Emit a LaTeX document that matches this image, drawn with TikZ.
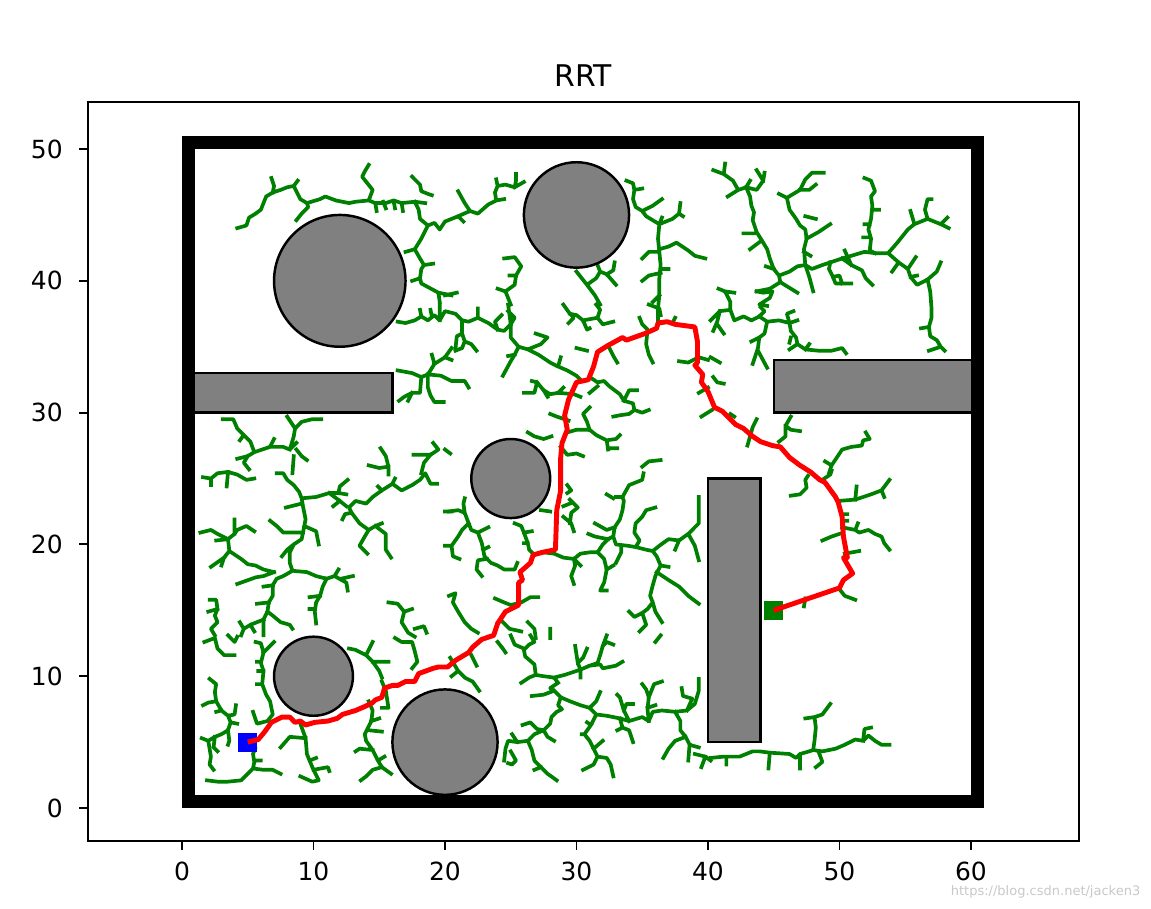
\documentclass[tikz,border=0pt]{standalone}
\usepackage{fontspec}
\setmainfont{DejaVu Sans}
\definecolor{treegreen}{RGB}{0,128,0}
\definecolor{obstaclegray}{RGB}{128,128,128}
\definecolor{markgray}{RGB}{200,200,200}

\begin{document}
\begin{tikzpicture}[x = 0.263cm, y = 0.2636cm,
		branch/.style = {treegreen, line width = 2.1pt, line cap = rect, line join = round},
		route/.style = {red, line width = 2.8pt, line join = round},
		obstacle/.style = {draw = black, fill = obstaclegray, line width = 1.4pt},
		wall/.style = {draw = black, line width = 0.263cm},
		marker/.style = {rectangle, minimum size = 0.38cm, inner sep = 0},
		spine/.style = {black, line width = 1.1pt},
		tick/.style = {black, line width = 1.1pt},
		ticklabel/.style = {inner sep = 0, font = \fontsize{14.2}{17}\selectfont}]
					\useasboundingbox (-13.84, -7.66) rectangle (73.69, 61.31);

					\draw [spine] (-7.15, -2.5) rectangle (68.2, 53.57);
					\foreach \x in { 0, 10, ..., 60 } {
						\draw [tick] (\x, -2.5) to (\x, -3.16);
						\node [ticklabel, anchor = north] (xl\x) at (\x, -4.05) {\x};
					}
					\foreach \y in { 0, 10, ..., 50 } {
						\draw [tick] (-7.15, \y) to (-7.82, \y);
						\node [ticklabel, anchor = east] (yl\y) at (-9.05, \y) {\y};
					}
					\node [font = \fontsize{17}{20}\selectfont] (title) at (30.5, 55.6) {RRT};
					\node [markgray, anchor = east, inner sep = 0, font = \fontsize{7.4}{9}\selectfont] (mark) at (72.9, -6.37) {https://blog.csdn.net/jacken3};

					\draw [branch] (4.2,44.0) -- (4.9,44.2) -- (5.1,44.8) -- (5.6,45.1) -- (6.0,45.4) -- (6.2,45.9) -- (6.4,46.4) -- (6.9,46.7) -- (7.5,46.9) -- (8.0,47.1) -- (8.5,47.2) -- (8.7,46.8) -- (9.0,46.2) -- (9.5,45.9) -- (10.5,46.2) -- (10.9,46.4) -- (11.7,46.1) -- (12.7,45.9) -- (13.2,46.0) -- (14.2,46.1) -- (14.7,45.9) -- (15.5,45.9) -- (16.1,46.1) -- (16.7,45.9) -- (17.7,46.0) -- (18.5,45.9)
						(6.9,46.7) -- (7.0,47.2) -- (6.8,47.8) (8.5,47.2) -- (8.8,47.6) (9.5,45.9) -- (9.6,45.6) -- (9.1,45.1) -- (8.7,44.6)
						(14.2,46.1) -- (14.5,46.9) -- (13.7,47.9) -- (13.9,48.3) -- (14.2,48.8) (14.7,45.9) -- (14.8,45.3) (15.3,46.0) -- (15.5,45.5) (16.1,46.0) -- (16.2,45.5) (16.7,45.9) -- (16.8,45.3)
						(17.5,47.9) -- (18.1,47.3) -- (18.2,46.8) -- (18.7,46.6) -- (19.0,46.5)
						(17.7,46.0) -- (18.0,45.4) -- (18.1,44.7) -- (18.7,44.2) -- (19.2,44.4) -- (19.6,43.9) -- (20.0,44.5) -- (21.0,44.9) -- (21.4,44.5)
						(18.7,44.2) -- (18.2,43.2) -- (17.7,42.4) -- (17.0,42.2) (17.7,42.4) -- (18.1,41.7) -- (18.4,41.2) -- (19.1,41.3)
						(18.4,41.2) -- (18.2,40.9) -- (18.1,40.2) -- (17.5,40.0) (18.1,40.2) -- (18.2,39.8) -- (19.5,39.1) -- (19.6,38.4) (19.5,39.1) -- (20.5,38.9);
					\draw [branch] (21.0,44.9) -- (21.9,45.3) -- (22.5,45.1) -- (23.3,45.8) -- (23.9,46.1) -- (24.5,46.2)
						(23.9,46.1) -- (23.8,46.7) -- (24.0,47.2) -- (23.9,47.7) (24.0,47.2) -- (24.6,47.3) -- (25.3,47.1) -- (25.4,47.6) -- (25.4,48.1) (25.3,47.1) -- (26.0,47.5)
						(21.9,45.3) -- (21.5,45.9) -- (21.0,46.8);
					\draw [branch] (33.8,47.6) -- (34.3,47.4) -- (34.4,46.9) -- (35.0,47.0) (34.4,46.9) -- (34.3,46.2) -- (34.5,45.6) -- (35.0,45.3) -- (35.3,44.9) -- (35.8,44.6) -- (36.3,44.3) -- (36.5,44.8)
						(35.0,45.3) -- (35.8,45.7) -- (36.5,46.2) (36.3,44.3) -- (37.3,44.7) -- (37.8,45.1) -- (37.9,45.9) (37.8,45.1) -- (38.1,44.9)
						(36.3,44.3) -- (36.2,43.2) -- (36.3,42.2) -- (36.4,41.2) -- (36.3,40.2) -- (36.3,38.9) -- (36.2,37.9) -- (36.2,36.8)
						(36.3,42.4) -- (37.0,42.6) -- (37.6,42.9) -- (38.5,42.3) -- (39.0,41.9) -- (39.8,41.7) (36.3,42.2) -- (35.5,42.2) -- (35.0,41.7)
						(36.4,40.6) -- (35.5,40.4) -- (35.0,40.0) (36.4,40.9) -- (37.0,40.9) (36.3,38.9) -- (35.8,38.4);
					\draw [branch] (30.0,40.7) -- (30.8,39.7) -- (31.4,38.9) -- (31.8,38.2) (30.8,39.7) -- (31.5,40.2) -- (31.8,40.7) -- (32.3,40.5) -- (33.0,39.7)
						(32.3,40.5) -- (32.8,40.8) -- (32.9,41.4) (31.8,40.7) -- (31.6,41.2)
						(24.5,41.7) -- (25.3,41.8) -- (25.8,41.1) -- (25.4,40.4) -- (25.3,39.7) -- (24.6,39.2) -- (24.0,39.4) (25.4,40.4) -- (24.9,40.4) (24.6,39.2) -- (25.0,38.2)
						(20.0,38.9) -- (20.9,39.1);
					\draw [branch] (40.4,48.4) -- (41.2,48.1) -- (41.3,48.9) (41.2,48.1) -- (41.9,47.6) -- (42.3,46.9) -- (41.5,46.4) (42.3,46.9) -- (42.9,47.1) -- (43.2,47.6)
						(42.9,47.1) -- (43.7,46.9) -- (44.2,47.6) -- (43.7,48.4) (44.2,47.6) -- (44.3,48.2)
						(42.9,47.1) -- (43.2,46.4) -- (43.3,45.7) -- (43.5,45.2) -- (43.4,44.6) -- (43.7,43.7) -- (44.2,42.9) -- (44.5,42.4) -- (44.7,41.7) -- (45.0,40.9) -- (45.4,40.4) -- (46.2,40.7) -- (46.8,41.1) -- (47.4,41.2) -- (47.9,40.9) -- (48.7,41.2) -- (49.3,41.4) -- (50.2,41.7) -- (50.9,41.9) -- (51.9,42.2) -- (52.7,42.1) -- (53.7,42.1)
						(43.5,43.6) -- (42.7,43.6) (44.0,43.0) -- (43.2,42.4) (45.4,40.4) -- (45.5,39.9) -- (44.7,39.4) -- (43.7,39.2) (45.5,39.9) -- (46.8,39.1) (45.0,40.9) -- (44.4,41.1);
					\draw [branch] (45.4,46.6) -- (46.0,46.3) -- (46.2,45.4) -- (46.7,44.7) -- (47.0,44.2) -- (47.4,43.9) -- (47.5,43.2) -- (47.3,42.4) -- (47.4,41.2) -- (47.7,40.3) -- (48.0,39.2)
						(46.0,46.3) -- (47.0,46.9) -- (47.4,47.7) -- (47.9,48.2) -- (48.8,48.2) (47.0,46.9) -- (47.7,46.9) -- (48.2,47.3)
						(47.4,44.9) -- (48.2,44.7) (47.5,43.2) -- (48.4,43.7) -- (49.3,44.3) (47.3,42.2) -- (47.8,41.9);
					\draw [branch] (51.9,47.8) -- (52.4,47.6) -- (52.7,46.8) -- (52.4,46.4) -- (52.5,45.7) -- (52.4,44.7) -- (52.2,43.9) -- (52.4,43.2) -- (52.3,42.3) -- (52.7,42.1)
						(52.5,45.4) -- (53.0,45.4) (52.3,44.3) -- (51.9,44.3) (52.2,43.3) -- (51.8,43.3);
					\draw [branch] (53.7,42.1) -- (54.4,42.9) -- (55.2,43.9) -- (55.7,44.3) -- (55.4,45.3) (55.7,44.3) -- (56.7,44.7) -- (56.5,45.4) -- (56.7,46.2) -- (57.0,46.2)
						(56.7,44.7) -- (57.7,44.3) -- (58.2,44.8) (57.7,44.3) -- (58.3,44.0)
						(53.7,42.1) -- (54.5,41.4) -- (55.2,40.9) -- (55.4,40.3) -- (55.9,39.7) -- (56.7,40.1) -- (57.4,40.7) -- (57.7,41.4)
						(56.7,40.1) -- (56.9,39.2) -- (57.0,37.9) -- (57.0,37.2) -- (56.8,36.5) -- (56.9,35.8) -- (57.4,35.5) -- (57.7,35.0) -- (56.8,34.7) (57.7,35.0) -- (58.0,34.7) (56.8,36.5) -- (56.2,36.4)
						(55.2,40.9) -- (55.8,41.8) (54.5,41.4) -- (54.0,40.7) (55.4,40.3) -- (55.9,40.4);
					\draw [branch] (50.2,41.7) -- (50.9,41.2) -- (51.7,40.8) -- (52.0,40.2) -- (52.5,39.7) (50.9,41.2) -- (50.4,42.3)
						(49.3,41.4) -- (49.2,40.9) -- (49.5,40.3) -- (49.7,39.8) -- (50.9,39.8) (49.5,40.3) -- (50.0,40.4) -- (50.2,39.8)
						(40.8,39.4) -- (41.3,39.2) -- (41.7,38.4) -- (41.7,37.9) (41.3,39.2) -- (42.0,39.1)
						(43.7,39.2) -- (44.2,39.1) -- (44.9,39.2) -- (44.7,38.7) -- (43.9,38.2) -- (44.5,38.1);
					\draw [branch] (40.2,37.0) -- (40.9,37.7) -- (41.7,37.8) -- (42.0,37.0) -- (42.7,37.3) -- (43.3,37.0) -- (43.9,37.3) -- (44.3,37.7) -- (44.0,38.0)
						(40.9,37.7) -- (40.7,36.9) -- (40.4,36.2) (40.7,36.7) -- (41.2,36.0)
						(43.9,37.3) -- (44.5,36.9) -- (45.4,37.0) -- (46.2,36.8) -- (46.0,37.5) -- (46.5,37.7) (46.2,36.8) -- (46.8,37.0)
						(44.5,36.9) -- (44.3,36.0) -- (43.9,35.7) -- (43.8,34.9) -- (43.4,33.7) (43.8,34.7) -- (44.5,33.4) (43.9,35.7) -- (43.3,35.4)
						(46.2,36.8) -- (46.3,36.2) -- (46.7,35.7) -- (46.8,35.2) -- (47.4,34.8) -- (48.4,34.7) -- (49.4,34.7) -- (50.2,34.9) -- (50.5,34.5)
						(46.3,35.7) -- (46.2,35.3) (46.8,35.2) -- (46.2,34.8) (47.4,34.8) -- (47.7,35.2)
						(40.2,34.2) -- (40.9,33.8) (40.4,32.7) -- (40.7,32.3) -- (41.2,32.2);
					\draw [branch] (43.7,29.5) -- (43.4,28.9) -- (43.0,27.5) (46.3,29.7) -- (45.9,29.0) -- (46.3,28.7) -- (47.0,28.6) (45.9,29.0) -- (45.9,28.2) -- (45.4,27.8)
						(41.7,29.9) -- (42.0,29.7)
						(48.9,26.3) -- (49.4,26.0) -- (49.2,25.4) (49.4,26.0) -- (50.2,27.2) -- (50.9,27.4) -- (51.7,27.5) -- (51.8,27.9) -- (52.3,28.0) -- (52.0,28.5);
					\draw [branch] (48.7,24.9) -- (49.3,25.3) -- (49.4,25.6)
						(46.3,23.7) -- (47.0,23.8) -- (47.5,24.3) -- (47.4,24.9) -- (47.6,25.2)
						(49.9,23.3) -- (51.2,23.4) -- (52.4,23.8) -- (53.2,24.1) -- (53.8,24.9) (53.2,24.1) -- (53.4,23.6) (51.2,23.4) -- (51.3,24.4)
						(50.2,21.3) -- (51.2,21.1) -- (51.5,20.9) -- (52.2,21.1) -- (52.7,20.8) -- (53.2,20.6) -- (53.4,20.1) -- (53.8,19.6) (51.2,21.1) -- (51.4,21.6)
						(50.2,22.3) -- (50.6,22.3) (50.2,21.8) -- (50.6,21.8)
						(50.0,20.8) -- (49.4,20.6) -- (48.7,20.3) (50.4,19.3) -- (51.5,19.5)
						(50.0,16.6) -- (50.4,16.1) -- (51.2,15.8) (47.4,15.9) -- (47.3,15.3);
					\draw [branch] (40.2,3.8) -- (41.2,3.9) -- (42.4,3.9) -- (43.4,4.3) -- (43.9,4.3) -- (44.7,4.2) -- (46.2,4.1) -- (46.7,3.8) -- (47.0,4.1) -- (47.7,4.3) -- (48.0,4.4) -- (48.7,4.3) -- (49.7,4.5) -- (50.4,4.8) -- (51.2,5.2) -- (51.8,5.1) -- (52.2,5.5) -- (52.7,5.1) -- (53.2,4.8) -- (53.8,4.8)
						(51.8,5.1) -- (51.9,6.0) -- (52.4,6.1) (41.4,3.9) -- (41.4,3.3) (44.7,4.2) -- (44.6,3.0) (47.0,4.0) -- (47.0,3.0)
						(48.0,4.4) -- (48.1,5.1) -- (48.2,6.1) -- (48.1,6.9) -- (47.4,6.8) (48.1,6.9) -- (48.7,7.1) -- (49.3,7.9) (48.4,4.3) -- (48.7,3.5) -- (48.2,3.1);
					\draw [branch] (25.8,9.5) -- (26.4,9.9) -- (26.9,10.1) -- (26.8,10.9) -- (26.1,11.5) -- (26.0,12.0) -- (26.4,12.4) -- (26.8,12.6) -- (26.5,13.1)
						(26.9,10.1) -- (27.5,10.0) -- (28.3,9.9) -- (28.6,9.5)
						(28.3,9.9) -- (29.1,10.1) -- (30.3,10.5) -- (31.0,10.8) -- (31.8,10.9) -- (32.0,10.6) -- (33.0,10.8) -- (33.5,11.1)
						(30.3,10.5) -- (30.1,11.0) -- (30.5,11.4) -- (30.8,12.1) (30.1,11.0) -- (29.9,12.3) (30.3,10.5) -- (30.3,9.9)
						(31.0,10.8) -- (31.6,11.0) -- (31.8,11.6) -- (32.0,12.3) -- (32.3,12.6) -- (32.8,12.4) (32.0,12.3) -- (32.3,13.1)
						(28.6,9.5) -- (28.0,9.1) -- (28.3,8.9) -- (27.5,8.6) -- (26.6,8.5)
						(28.3,8.9) -- (28.8,8.4) -- (29.5,8.1) -- (30.3,7.8) -- (31.0,7.6) -- (31.5,8.1) -- (31.8,8.8)
						(28.8,8.4) -- (28.6,7.8) -- (28.9,7.5) -- (28.5,7.3) -- (28.1,6.9) -- (28.0,6.4) -- (27.5,5.9) -- (27.0,6.0) -- (26.5,6.5) -- (25.9,6.3)
						(27.5,5.9) -- (27.8,5.4) -- (28.3,5.1)
						(27.5,5.9) -- (26.8,5.6) -- (26.3,5.1) -- (25.5,5.0) -- (25.1,5.6) (25.5,5.0) -- (24.8,5.1) -- (24.6,4.5) -- (24.5,3.6)
						(26.3,5.1) -- (26.6,4.4) -- (26.8,3.6) -- (27.3,3.1) -- (27.8,2.6) -- (28.5,2.1) (27.3,3.1) -- (26.8,2.9)
						(25.0,4.3) -- (25.4,3.6) -- (25.1,3.3) -- (24.8,3.4);
					\draw [branch] (31.0,7.6) -- (31.5,7.1) -- (32.3,7.0) -- (33.3,6.8) -- (34.0,6.6) -- (35.0,6.9) -- (35.5,6.6) -- (35.8,7.3) -- (36.5,7.4) -- (37.5,7.3) -- (38.4,7.4) -- (39.0,7.9) -- (39.3,8.9) -- (39.3,9.8)
						(38.4,7.4) -- (38.8,8.3) -- (38.1,8.5) -- (38.0,9.1)
						(37.5,7.3) -- (37.9,6.6) -- (37.9,5.9) -- (38.3,5.4) -- (38.6,4.8) -- (39.3,4.6) (38.3,5.4) -- (37.5,5.1) -- (37.0,4.5) -- (36.6,3.8) (38.6,4.8) -- (38.5,3.6)
						(39.0,4.1) -- (39.8,3.9) -- (40.2,3.6) (39.8,3.9) -- (39.5,3.1)
						(35.5,6.6) -- (35.4,7.5) -- (35.5,8.4) -- (35.3,9.0) -- (35.0,9.4) (35.5,8.4) -- (35.9,9.4) -- (36.5,9.6) (35.4,7.6) -- (36.0,7.8)
						(34.0,6.6) -- (33.6,7.4) -- (33.8,7.9) -- (34.3,7.9) (33.6,7.4) -- (33.3,8.4) -- (33.1,8.6)
						(33.3,6.8) -- (33.5,6.1) -- (33.1,5.9) (33.5,6.1) -- (34.0,5.9) -- (34.3,5.0)
						(31.5,7.1) -- (31.1,6.3) -- (30.6,5.6) -- (31.0,5.1) -- (31.3,4.5) -- (31.6,3.9) -- (31.3,3.3) -- (30.5,2.9) (31.6,3.9) -- (32.3,3.8) -- (32.6,3.3) -- (32.8,2.4)
						(31.1,6.3) -- (30.8,6.5) (30.6,5.6) -- (30.4,5.6) (31.3,4.5) -- (32.0,5.1);
					\draw [branch] (20.4,11.4) -- (21.0,10.4) -- (21.5,9.9) -- (22.1,9.6) -- (22.6,8.9) (21.0,10.4) -- (20.5,10.0) (22.0,11.6) -- (22.4,10.8)
						(24.0,12.6) -- (24.4,12.1) -- (24.6,11.8) (25.0,13.1) -- (25.3,12.4) -- (26.0,12.1) (36.0,12.6) -- (36.4,13.1);
					\draw [branch] (2.1,9.8) -- (2.6,9.4) -- (2.5,8.8) -- (2.6,8.1) -- (2.0,8.0) -- (1.6,7.8) (2.6,8.1) -- (3.0,7.4) -- (3.5,7.0) -- (4.0,7.1) -- (4.1,7.8) (3.0,7.4) -- (2.6,7.3)
						(3.5,7.0) -- (3.7,6.5) -- (3.5,5.9) -- (3.0,5.6) -- (2.5,5.4) -- (2.0,5.1) -- (1.5,5.3) (3.5,5.9) -- (3.6,5.1) -- (3.5,4.8) (2.5,5.4) -- (2.4,4.6) -- (2.7,4.3)
						(2.0,5.1) -- (2.1,4.5) -- (2.2,3.9) -- (2.1,3.3) -- (2.4,2.9) (3.7,6.5) -- (4.2,6.4)
						(5.0,5.1) -- (5.6,4.6) -- (5.4,4.1) -- (5.5,3.5) -- (5.4,3.0) -- (5.0,2.6) -- (4.5,2.1) -- (3.5,2.0) -- (2.7,2.0) -- (1.9,2.1) (5.4,3.0) -- (6.2,2.9) -- (6.9,2.9) -- (7.5,2.6) (5.5,3.6) -- (6.0,3.6)
						(5.6,12.6) -- (6.0,12.5) -- (6.2,11.8) -- (6.0,11.0) -- (6.2,10.4) -- (6.1,9.4) -- (6.4,8.6) -- (6.7,8.1) -- (6.9,7.1) -- (6.5,6.6) -- (5.7,6.4) -- (5.4,7.3)
						(6.2,11.8) -- (7.0,12.6) (6.0,11.1) -- (5.7,11.1) (6.2,10.4) -- (5.8,10.4) (6.1,9.4) -- (5.7,9.4)
						(1.7,12.6) -- (2.5,12.9) -- (2.7,12.1) -- (3.2,11.6) -- (4.0,11.6) (3.5,13.1) -- (4.0,12.6) -- (4.2,13.0);
					\draw [branch] (9.0,6.4) -- (9.4,5.3) -- (9.5,4.1) -- (9.7,3.6) -- (10.0,2.9) -- (10.4,2.1) -- (9.9,2.0) -- (9.0,2.4) (9.4,5.3) -- (8.2,5.4) -- (7.5,4.6) (9.7,3.6) -- (10.2,3.8) (10.0,2.9) -- (11.1,3.1) -- (11.2,2.8)
						(12.7,12.1) -- (13.2,12.0) -- (14.0,11.6) -- (14.5,11.1) -- (15.0,10.4) -- (15.2,9.9) (14.0,11.6) -- (14.5,12.6) (14.5,11.1) -- (15.2,11.1) -- (15.7,11.1) (15.2,9.6) -- (15.5,8.9) -- (15.7,7.6) -- (15.2,7.6)
						(14.2,8.1) -- (14.5,7.4) -- (14.4,6.6) -- (13.9,5.6) -- (14.0,5.1) -- (14.5,4.4) -- (14.9,3.6) -- (15.2,3.1) -- (15.9,2.6) (15.2,3.1) -- (14.5,2.9) -- (14.0,2.4) -- (13.6,2.1)
						(14.5,4.4) -- (13.5,4.5) -- (13.2,4.3) (14.2,5.9) -- (15.2,5.8) (14.4,6.6) -- (15.0,6.8) (14.9,3.6) -- (15.4,3.9)
						(16.2,12.9) -- (16.7,12.6) -- (17.5,12.6) -- (17.7,11.9) -- (17.9,11.1) -- (17.5,10.6);
					\draw [branch] (1.6,25.1) -- (2.2,25.0) -- (2.7,25.4) -- (3.5,25.5) -- (4.2,25.3) -- (4.9,24.9) -- (5.5,25.0) (2.2,25.0) -- (2.2,24.5) (3.5,25.5) -- (3.4,24.4)
						(7.2,25.4) -- (7.7,25.4) -- (8.0,24.9) -- (8.5,24.5) -- (8.9,24.0) -- (9.1,23.5) -- (9.2,22.9) -- (9.4,21.9) -- (9.2,20.9) -- (9.1,20.4) -- (8.5,20.0) -- (8.2,19.4) -- (8.2,18.6) -- (8.4,18.0) -- (7.7,17.6) -- (7.2,17.4) -- (6.9,16.9) -- (6.9,16.1) -- (6.6,15.6) -- (6.5,14.9) -- (6.2,14.3) -- (6.2,13.1)
						(9.1,23.5) -- (10.2,23.6) -- (11.2,23.9) -- (11.9,23.9) -- (12.5,23.8) (11.9,23.9) -- (12.0,24.4) -- (12.6,24.9) (11.2,23.9) -- (12.0,23.3) -- (12.5,22.9) (12.0,23.3) -- (11.5,22.9) (9.1,23.1) -- (7.9,22.8)
						(9.3,21.4) -- (10.2,21.0) -- (10.4,20.0) (8.5,20.0) -- (8.0,19.6) -- (7.6,19.1)
						(8.4,18.0) -- (9.5,17.9) -- (10.2,17.6) -- (11.0,17.4) -- (11.6,17.6) -- (11.9,18.1) (11.0,17.4) -- (10.7,16.8) -- (10.5,16.1) -- (10.2,15.6) -- (10.1,14.9) -- (10.2,14.0)
						(10.5,16.1) -- (9.7,16.0) (10.1,15.1) -- (9.7,15.1) (11.6,17.6) -- (12.5,17.1) -- (12.6,16.5) (12.1,17.4) -- (13.0,17.6)
						(9.2,20.9) -- (7.7,20.9) -- (7.2,21.4) -- (6.7,21.8);
					\draw [branch] (1.4,20.9) -- (2.2,21.1) -- (2.7,20.8) -- (3.5,20.4) -- (4.0,20.8) -- (4.2,21.1) -- (4.9,21.4) -- (5.5,21.0) (4.0,20.8) -- (4.0,21.9) (2.6,20.3) -- (3.5,20.4)
						(3.5,20.4) -- (3.6,19.5) -- (3.2,19.0) -- (3.0,18.4) (3.2,19.0) -- (2.2,18.3) (3.6,19.5) -- (4.5,18.9) -- (5.0,18.5) -- (5.6,18.4) -- (6.2,18.1) -- (7.0,17.9)
						(7.0,17.9) -- (6.2,17.6) -- (5.6,17.5) -- (4.2,17.0) (6.9,16.9) -- (6.2,16.8) (6.6,15.6) -- (5.7,15.5)
						(6.5,14.9) -- (6.9,14.6) -- (7.5,14.1) -- (8.2,13.9) -- (8.4,13.6) (6.2,14.3) -- (5.2,13.9) -- (4.7,13.6) -- (4.4,14.1) (5.2,13.9) -- (5.5,13.4) (4.7,13.6) -- (4.5,13.1)
						(2.1,15.8) -- (2.6,15.8) -- (2.7,15.1) -- (2.5,14.6) -- (2.7,14.1) -- (2.2,13.6) -- (2.5,13.1) (2.7,15.1) -- (2.0,14.9);
					\draw [branch] (12.2,21.9) -- (12.4,22.3) -- (12.9,22.4) -- (13.5,21.6) -- (14.2,21.1) -- (14.7,21.4) -- (15.2,21.6) (14.2,21.1) -- (13.9,20.6) -- (13.5,19.9) -- (14.1,19.3)
						(14.7,21.4) -- (15.5,20.8) -- (15.5,19.6) -- (15.9,19.0)
						(12.9,22.4) -- (12.7,22.8) -- (13.2,23.3) -- (14.0,23.1) -- (14.5,23.6) -- (15.2,24.1) -- (16.0,24.6) -- (16.2,25.0) (15.2,24.1) -- (14.9,24.4)
						(16.0,24.6) -- (16.7,24.1) -- (17.5,24.5) -- (18.1,24.9) -- (18.5,25.4) -- (18.9,24.6) -- (19.4,24.6)
						(15.7,15.6) -- (16.4,15.5) -- (16.9,14.9) -- (16.7,14.1) -- (17.2,13.3) -- (17.7,13.0) (16.9,14.9) -- (17.5,15.1) (17.7,13.6) -- (18.4,13.8) -- (18.6,13.3)
						(20.0,22.5) -- (20.5,22.5);
					\draw [branch] (16.4,36.9) -- (17.0,36.8) -- (17.7,37.0) -- (18.2,37.3) -- (18.7,37.0) -- (19.2,37.4) -- (19.6,37.0) -- (20.0,37.7) -- (20.8,37.5) -- (21.3,37.0) -- (21.8,36.9) -- (22.5,37.2) -- (22.5,37.9)
						(18.1,37.8) -- (18.2,37.3) (18.9,37.8) -- (19.0,37.3) (19.6,38.2) -- (19.6,37.0)
						(22.5,37.2) -- (23.3,36.8) -- (24.0,36.3) -- (24.5,36.2) -- (25.0,36.7) -- (25.3,37.2) -- (24.8,37.7) (25.0,36.7) -- (24.8,38.2) (24.0,36.3) -- (23.8,36.9) -- (24.3,37.4)
						(21.3,37.0) -- (21.3,36.0) -- (20.9,35.8) -- (20.8,34.9) (21.3,36.0) -- (21.5,35.4) -- (22.0,35.2) -- (22.4,34.7) (21.5,35.4) -- (21.3,34.9) -- (20.8,34.7) (20.0,34.2) -- (20.5,34.0);
					\draw [branch] (16.4,33.2) -- (17.5,33.0) -- (18.2,32.7) -- (18.7,32.9) -- (19.2,33.7) -- (19.0,34.4) (19.2,33.7) -- (20.0,34.2) -- (20.5,34.9)
						(18.7,32.9) -- (18.7,31.9) -- (18.9,31.3) -- (19.2,30.8) -- (19.9,30.8) (18.2,32.7) -- (18.1,31.5) -- (17.5,31.5) -- (16.9,31.2) -- (16.5,30.9) (17.5,31.5) -- (17.2,30.9)
						(18.7,32.9) -- (19.7,32.8) -- (20.5,32.4) -- (21.5,32.4) -- (21.8,31.9);
					\draw [branch] (3.1,29.5) -- (3.9,29.5) -- (4.2,28.8) -- (4.7,28.3) -- (4.4,27.9) (4.7,28.3) -- (5.2,27.8) -- (5.5,27.0) -- (5.0,26.7) -- (4.2,26.5)
						(5.5,27.0) -- (6.1,27.2) -- (6.7,27.4) -- (7.0,28.0) (6.7,27.4) -- (7.7,27.4) -- (8.2,27.2) -- (8.7,27.7)
						(8.2,27.2) -- (8.5,28.2) -- (8.6,28.8) -- (9.1,29.3) -- (9.9,29.5) -- (10.6,29.5) (8.6,28.8) -- (8.0,29.7)
						(8.7,27.2) -- (9.1,26.7) -- (9.5,26.4) (8.5,26.7) -- (8.4,25.4) (5.0,26.7) -- (4.7,26.2) -- (5.1,25.7)
						(14.2,26.0) -- (15.0,25.8) -- (15.7,25.9) -- (15.5,26.7) -- (15.1,27.3) (15.7,25.9) -- (15.7,25.3)
						(17.6,26.8) -- (18.9,26.8) -- (19.5,27.2) -- (19.1,27.7) (18.9,26.8) -- (18.4,26.2) -- (18.2,25.4);
					\draw [branch] (25.0,36.7) -- (25.0,35.7) -- (25.6,35.0) -- (26.3,34.8) -- (27.3,35.2) -- (27.8,35.7) -- (26.9,36.0)
						(26.3,34.8) -- (27.1,34.4) -- (28.0,33.8) -- (28.6,33.5) -- (29.3,33.2) -- (30.0,32.8) -- (30.3,32.5)
						(25.6,35.0) -- (25.3,34.4) -- (25.0,33.9) -- (24.4,32.8) (25.3,34.4) -- (24.8,34.3) (28.6,33.5) -- (28.8,34.2)
						(29.0,38.2) -- (29.5,37.5) -- (29.8,37.2) -- (29.4,36.8) (29.5,37.5) -- (30.0,37.4) -- (30.5,37.0) -- (30.8,36.3) -- (31.0,36.4)
						(30.5,37.0) -- (31.6,37.2) -- (31.8,37.8) -- (31.5,38.2) (31.6,37.2) -- (32.0,36.7) -- (32.8,36.9)
						(30.0,34.9) -- (30.8,34.7) (32.5,34.9) -- (32.8,34.3) -- (33.1,33.8)
						(34.8,37.2) -- (35.0,36.7) -- (35.4,36.3) -- (35.3,35.2) -- (35.5,34.4) -- (35.8,33.8) (35.5,38.2) -- (36.3,37.9) -- (36.4,37.4) (37.5,37.2) -- (37.3,36.8)
						(37.8,33.9) -- (38.5,33.8) -- (39.3,34.2) -- (40.0,34.0) (39.3,31.5) -- (40.0,31.9) (39.5,29.7) -- (40.3,30.2);
					\draw [branch] (31.0,32.7) -- (31.6,32.3) -- (32.1,32.4) -- (32.5,32.0) -- (33.3,31.4) -- (33.6,30.9) -- (34.3,30.7) -- (34.4,30.2) -- (34.0,29.9) -- (33.3,29.8) -- (32.8,29.7)
						(34.4,30.2) -- (35.0,30.0) -- (35.5,30.2) (33.6,30.9) -- (34.0,31.7) -- (34.6,31.7) (31.0,31.5) -- (31.6,32.0)
						(26.0,31.5) -- (26.8,31.5) -- (27.0,32.3) -- (26.6,32.4) (27.0,32.3) -- (27.5,31.7) -- (28.0,31.4) -- (28.6,31.5) -- (29.0,31.9)
						(28.6,31.5) -- (29.8,31.4) -- (30.3,31.2) (27.5,31.7) -- (27.8,31.2)
						(28.0,29.9) -- (28.5,29.7) -- (29.4,29.4)
						(29.3,28.5) -- (30.0,28.7) -- (31.0,28.7) -- (31.5,28.3) -- (32.3,27.9) -- (32.4,27.2) (31.0,28.7) -- (30.8,29.3) -- (30.5,29.9) -- (31.0,30.4)
						(32.3,27.9) -- (33.0,28.0) -- (33.3,28.3) (32.4,27.3) -- (33.1,27.3)
						(26.3,28.5) -- (26.8,28.2) -- (27.5,28.0) -- (28.1,28.2) (28.8,27.4) -- (29.3,26.8) -- (30.0,26.9) -- (30.5,26.7)
						(35.0,25.9) -- (35.5,26.3) -- (36.4,26.4) (20.0,27.2) -- (20.4,26.9);
					\draw [branch] (20.3,22.5) -- (21.0,22.6) -- (21.5,22.4) -- (21.8,21.6) -- (22.0,21.1) -- (22.5,20.9) -- (23.3,21.3) (21.5,22.4) -- (21.4,23.1) -- (21.5,23.5)
						(21.8,21.6) -- (21.3,21.1) -- (21.0,20.6) -- (20.5,19.9) -- (20.6,19.1) -- (21.1,18.9) (20.5,19.9) -- (20.0,19.9)
						(22.5,20.9) -- (22.8,20.1) -- (22.9,19.6) -- (23.0,19.1) -- (23.5,18.6) -- (24.0,18.4) -- (24.5,18.1) -- (25.3,18.1) -- (25.5,18.6) (22.9,19.6) -- (23.3,19.8)
						(23.2,18.9) -- (22.5,18.8) -- (22.4,18.1) -- (22.8,17.6)
						(25.3,21.6) -- (25.8,21.4) -- (26.0,20.9) -- (26.3,20.1) -- (26.4,19.6) -- (26.6,19.4) (26.0,20.9) -- (26.6,21.0) (26.3,20.1) -- (26.0,20.1)
						(27.3,22.6) -- (28.0,22.5) (29.0,22.9) -- (29.5,23.1) (29.3,24.5) -- (29.6,24.1) -- (29.3,23.9)
						(29.5,23.4) -- (30.1,22.8) -- (29.6,22.4) -- (29.5,21.6) (29.0,22.1) -- (29.6,21.6) -- (29.8,21.0);
					\draw [branch] (27.5,19.4) -- (28.3,19.3) -- (29.0,19.0) -- (29.8,18.9) -- (29.9,18.4) -- (29.6,17.6) -- (29.8,17.0) (29.8,18.9) -- (30.3,18.4)
						(29.8,18.9) -- (30.3,19.3) -- (31.0,19.4) -- (31.6,19.4) -- (32.0,20.0) -- (32.4,20.4) (31.6,19.4) -- (32.1,18.9) -- (32.3,18.1) -- (32.1,17.1) -- (31.8,16.5) -- (32.3,16.5) (32.3,18.1) -- (32.8,18.4)
						(32.4,20.4) -- (32.8,20.6) -- (32.9,21.3) -- (33.3,21.9) -- (33.5,22.6) -- (33.6,23.3) -- (33.5,23.6) -- (34.0,24.5) -- (35.0,24.9) -- (35.1,25.4)
						(33.5,23.6) -- (33.0,23.6) (32.3,23.8) -- (32.8,23.5) (32.9,21.3) -- (32.3,21.1) -- (31.4,21.6) (32.4,20.4) -- (31.4,20.6) -- (30.9,20.8)
						(32.8,20.6) -- (33.0,20.0) -- (33.9,19.9) -- (34.5,19.8) -- (34.8,20.3) -- (34.4,20.9) -- (34.5,21.6) -- (35.0,22.1) -- (35.3,22.6) -- (36.0,22.8)
						(34.5,19.8) -- (35.3,19.6) -- (35.8,19.5) -- (36.1,19.1) -- (36.4,18.4) -- (37.0,18.3)
						(35.8,19.5) -- (36.3,19.9) -- (37.0,20.4) -- (37.8,20.3) -- (38.5,20.8) -- (39.3,21.6) -- (39.3,23.6) (38.5,20.8) -- (39.0,19.9) -- (39.3,18.8) (37.8,20.3) -- (37.5,19.6)
						(36.4,18.4) -- (36.0,17.6) -- (35.8,16.9) -- (35.6,16.1) -- (35.8,15.6) -- (35.4,15.1) -- (35.0,14.8) -- (34.4,14.5) -- (34.0,14.9)
						(36.1,17.9) -- (37.0,17.3) -- (37.8,16.8) -- (38.5,16.1) -- (39.3,15.5) (35.8,15.6) -- (36.0,14.9) -- (36.5,14.1) (35.0,14.8) -- (35.3,13.9) -- (34.8,13.4)
						(33.4,19.9) -- (33.4,19.4) -- (33.0,18.6);
					\draw [branch] (20.3,16.1) -- (20.8,16.3) -- (20.6,15.6) -- (21.0,14.9) -- (21.5,14.1) -- (22.0,13.6) -- (22.5,13.3)
						(23.8,15.9) -- (24.5,15.6) -- (25.0,15.4) -- (25.8,15.6) -- (26.5,16.0) -- (27.1,16.0)
						(24.4,14.1) -- (24.9,13.6) -- (25.8,13.4) (26.3,14.1) -- (26.8,13.6) -- (26.9,12.9) (28.0,13.6) -- (28.0,12.9);

					\draw [obstacle] (12, 40) circle [radius = 5];
					\draw [obstacle] (30, 45) circle [radius = 4];
					\draw [obstacle] (25, 25) circle [radius = 3];
					\draw [obstacle] (10, 10) circle [radius = 3];
					\draw [obstacle] (20, 5) circle [radius = 4];
					\draw [obstacle] (0.5, 30) rectangle (16, 33);
					\draw [obstacle] (45, 30) rectangle (60.5, 34);
					\draw [obstacle] (40, 5) rectangle (44, 25);
					\draw [wall] (0.5, 0.5) rectangle (60.5, 50.5);

					\node [marker, fill = blue] (start) at (5, 5) {};
					\node [marker, fill = treegreen] (goal) at (45, 15) {};

					\draw [route] (start.center) -- (5.8,5.2) -- (6.3,5.8) -- (6.8,6.5) -- (7.6,6.9) -- (8.2,6.9) -- (8.6,6.5) -- (9.0,6.6) -- (9.4,6.3) -- (10.1,6.5) -- (11.1,6.6) -- (11.8,6.8) -- (12.2,7.1) -- (13.2,7.4) -- (13.9,7.7) -- (14.5,8.0) -- (14.7,8.2) -- (15.2,8.4) -- (15.4,9.1) -- (16.0,9.3) -- (16.4,9.3) -- (17.0,9.6) -- (17.7,9.6) -- (18.0,10.2) -- (19.1,10.6) -- (19.5,10.7) -- (20.2,10.7) -- (20.8,11.2) -- (21.8,11.8) -- (22.1,12.2) -- (22.8,12.8) -- (23.7,13.1) -- (24.0,14.0) -- (24.6,14.9) -- (25.6,15.4) -- (25.6,17.1) -- (25.9,17.3) -- (25.7,17.9) -- (26.5,18.6) -- (26.7,19.2) -- (27.4,19.4) -- (28.4,19.6) -- (28.5,22.6) -- (28.8,24.1) -- (28.8,25.6) -- (28.8,26.6) -- (28.9,27.7) -- (29.3,28.7) -- (29.1,29.8) -- (29.4,31.0) -- (30.0,32.3) -- (30.9,32.5) -- (31.3,33.5) -- (31.6,34.6) -- (32.4,35.1) -- (33.5,35.7) -- (33.8,35.5) -- (35.2,36.0) -- (36.1,36.4) -- (36.2,36.8) -- (36.9,36.9) -- (37.5,36.7) -- (39.0,36.5) -- (39.2,35.4) -- (39.2,33.8) -- (39.0,33.6) -- (39.6,32.9) -- (39.5,32.3) -- (40.0,31.6) -- (40.5,30.4) -- (40.9,30.2) -- (41.1,30.1) -- (42.1,29.1) -- (42.7,28.8) -- (43.4,28.2) -- (44.0,27.8) -- (44.9,27.5) -- (45.5,27.4) -- (46.2,26.6) -- (47.0,26.0) -- (47.8,25.5) -- (48.5,24.9) -- (48.9,24.7) -- (49.7,23.6) -- (49.9,23.2) -- (50.2,22.1) -- (50.3,20.6) -- (50.6,19.0) -- (50.3,19.0) -- (51.0,17.8) -- (50.3,17.3) -- (50.0,16.7) -- (goal.center);
				\end{tikzpicture}
\end{document}
